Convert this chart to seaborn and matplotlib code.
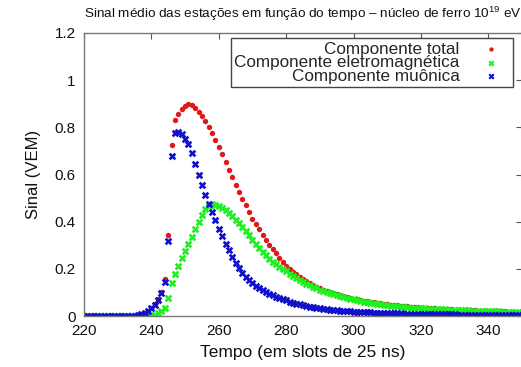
import matplotlib
matplotlib.use("Agg")
import matplotlib.pyplot as plt
import seaborn as sns
import pandas as pd

# time slots (25 ns each)
tempo = list(range(220, 351))

total = [
    0, 0, 0, 0, 0, 0, 0, 0, 0, 0,
    0, 0, 0, 0, 0.001, 0.002, 0.004, 0.008, 0.014, 0.022,
    0.033, 0.050, 0.070, 0.100, 0.157, 0.342, 0.725, 0.830, 0.858, 0.877,
    0.892, 0.898, 0.893, 0.880, 0.866, 0.850, 0.826, 0.802, 0.775, 0.745,
    0.715, 0.685, 0.652, 0.620, 0.588, 0.557, 0.525, 0.497, 0.469, 0.441,
    0.413, 0.392, 0.369, 0.345, 0.323, 0.302, 0.284, 0.267, 0.247, 0.229,
    0.213, 0.200, 0.188, 0.177, 0.166, 0.156, 0.147, 0.139, 0.131, 0.124,
    0.118, 0.112, 0.106, 0.101, 0.096, 0.092, 0.088, 0.084, 0.080, 0.077,
    0.074, 0.071, 0.068, 0.065, 0.062, 0.060, 0.058, 0.056, 0.054, 0.052,
    0.050, 0.048, 0.046, 0.045, 0.043, 0.042, 0.041, 0.039, 0.038, 0.037,
    0.036, 0.035, 0.034, 0.033, 0.032, 0.031, 0.030, 0.030, 0.029, 0.028,
    0.027, 0.027, 0.026, 0.025, 0.025, 0.024, 0.024, 0.023, 0.023, 0.022,
    0.022, 0.021, 0.021, 0.020, 0.020, 0.020, 0.019, 0.019, 0.019, 0.018,
    0.018,
]

eletromagnetica = [
    0, 0, 0, 0, 0, 0, 0, 0, 0, 0,
    0, 0, 0, 0, 0, 0, 0, 0, 0, 0.001,
    0.003, 0.006, 0.012, 0.020, 0.033, 0.075, 0.139, 0.179, 0.212, 0.245,
    0.276, 0.306, 0.337, 0.369, 0.400, 0.430, 0.453, 0.468, 0.474, 0.472,
    0.466, 0.458, 0.448, 0.436, 0.423, 0.409, 0.394, 0.377, 0.360, 0.342,
    0.324, 0.306, 0.290, 0.272, 0.257, 0.243, 0.231, 0.220, 0.209, 0.199,
    0.189, 0.179, 0.169, 0.160, 0.152, 0.144, 0.136, 0.130, 0.123, 0.117,
    0.111, 0.106, 0.101, 0.097, 0.093, 0.089, 0.085, 0.081, 0.077, 0.073,
    0.070, 0.067, 0.064, 0.061, 0.058, 0.056, 0.054, 0.052, 0.050, 0.048,
    0.046, 0.044, 0.042, 0.041, 0.040, 0.038, 0.037, 0.036, 0.035, 0.034,
    0.033, 0.032, 0.031, 0.031, 0.030, 0.029, 0.029, 0.028, 0.027, 0.027,
    0.026, 0.025, 0.025, 0.024, 0.024, 0.023, 0.023, 0.022, 0.022, 0.021,
    0.021, 0.020, 0.020, 0.020, 0.019, 0.019, 0.018, 0.018, 0.018, 0.017,
    0.017,
]

muonica = [
    0, 0, 0, 0, 0, 0, 0, 0, 0, 0,
    0, 0, 0, 0, 0.001, 0.002, 0.004, 0.008, 0.014, 0.022,
    0.032, 0.048, 0.068, 0.097, 0.143, 0.320, 0.680, 0.775, 0.780, 0.772,
    0.752, 0.728, 0.690, 0.645, 0.600, 0.557, 0.515, 0.474, 0.440, 0.405,
    0.371, 0.338, 0.306, 0.278, 0.250, 0.224, 0.203, 0.184, 0.167, 0.153,
    0.140, 0.129, 0.119, 0.110, 0.102, 0.095, 0.088, 0.082, 0.076, 0.071,
    0.066, 0.061, 0.057, 0.053, 0.049, 0.046, 0.043, 0.040, 0.037, 0.035,
    0.033, 0.031, 0.029, 0.027, 0.026, 0.024, 0.023, 0.022, 0.021, 0.020,
    0.019, 0.018, 0.017, 0.016, 0.016, 0.015, 0.014, 0.014, 0.013, 0.013,
    0.012, 0.012, 0.011, 0.011, 0.011, 0.010, 0.010, 0.010, 0.009, 0.009,
    0.009, 0.008, 0.008, 0.008, 0.008, 0.007, 0.007, 0.007, 0.007, 0.007,
    0.007, 0.006, 0.006, 0.006, 0.006, 0.006, 0.006, 0.006, 0.006, 0.006,
    0.006, 0.006, 0.006, 0.005, 0.005, 0.005, 0.005, 0.005, 0.005, 0.005,
    0.005,
]

series_names = ["Componente total", "Componente eletromagnética", "Componente muônica"]
x_ticks = [220, 240, 260, 280, 300, 320, 340]
y_ticks = [0, 0.2, 0.4, 0.6, 0.8, 1.0, 1.2]
y_ticklabels = ["0", "0.2", "0.4", "0.6", "0.8", "1", "1.2"]

sns.set_style("white")
plt.rcParams["font.family"] = ["Liberation Sans", "DejaVu Sans"]
plt.rcParams["mathtext.fontset"] = "custom"
plt.rcParams["mathtext.rm"] = "Liberation Sans"
plt.rcParams["mathtext.it"] = "Liberation Sans"

W, H = 521, 367
fig = plt.figure(figsize=(W / 100, H / 100), dpi=100)
ax = fig.add_axes([84 / W, 1 - 316 / H, 438 / W, 283 / H])

styles = [
    (total, "#e01818", "o", 15),
    (eletromagnetica, "#1ff01f", "X", 30),
    (muonica, "#1010cc", "X", 30),
]
for name, (vals, col, mk, sz) in zip(series_names, styles):
    df = pd.DataFrame({"t": tempo, "v": vals})
    sns.scatterplot(data=df, x="t", y="v", ax=ax, color=col, marker=mk, s=sz,
                    linewidth=0, label=name, clip_on=True)

ax.set_xlim(220, 350)
ax.set_ylim(0, 1.2)
ax.set_xticks(x_ticks)
ax.set_yticks(y_ticks)
ax.set_yticklabels(y_ticklabels)
ax.tick_params(direction="in", top=True, right=True, length=4, width=0.8,
               color="#555555", labelsize=11, labelcolor="#111111", pad=6)
for sp in ax.spines.values():
    sp.set_color("#777777")
    sp.set_linewidth(1.0)

ax.set_xlabel("Tempo (em slots de 25 ns)", fontsize=12.5, labelpad=5, color="#111111")
ax.set_ylabel("Sinal (VEM)", fontsize=12, labelpad=10, color="#111111")
ax.set_title("Sinal médio das estações em função do tempo – núcleo de ferro 10$^{19}$ eV",
             fontsize=9.7, pad=11, color="#111111")

leg = ax.legend(loc="upper right", bbox_to_anchor=(0.979, 0.982), borderaxespad=0,
                markerfirst=False, fontsize=12.3, frameon=True, fancybox=False,
                handlelength=2.2, handletextpad=0.7, labelspacing=-0.08,
                borderpad=0.2, markerscale=0.8)
leg.get_frame().set_edgecolor("#444444")
leg.get_frame().set_linewidth(1.0)
leg.get_frame().set_alpha(1.0)

fig.savefig("out.png", dpi=100)
